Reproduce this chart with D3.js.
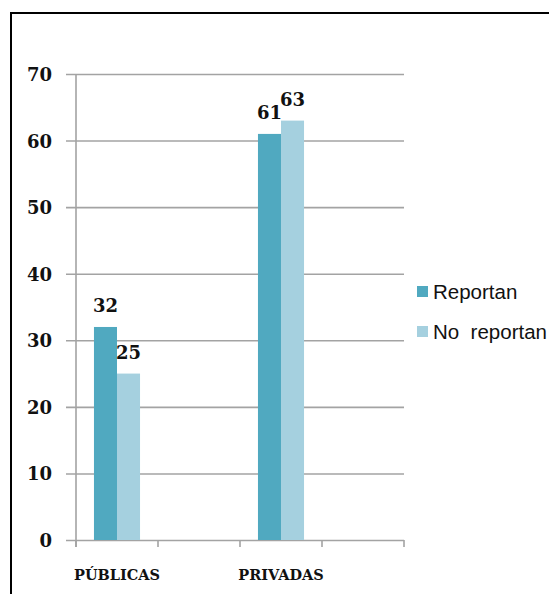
<!DOCTYPE html>
<html>
<head>
<meta charset="utf-8">
<script src="https://cdn.jsdelivr.net/npm/d3@7"></script>
<style>
  html, body { margin: 0; padding: 0; background: #fff; }
  svg { display: block; }
</style>
</head>
<body>
<svg id="chart" width="549" height="594"></svg>
<script>
const categories = ["PÚBLICAS", "", "PRIVADAS", ""];
const seriesNames = ["Reportan", "No  reportan"];
const reportan = [32, null, 61, null];
const noReportan = [25, null, 63, null];
const yTicks = [0, 10, 20, 30, 40, 50, 60, 70];
const colors = ["#50A9C0", "#A5D0DF"];

const svg = d3.select("#chart");

// outer frame
svg.append("rect")
  .attr("x", 11).attr("y", 13)
  .attr("width", 600).attr("height", 650)
  .attr("fill", "none").attr("stroke", "#000").attr("stroke-width", 2);

const plotLeft = 76, plotRight = 404, plotTop = 74, plotBottom = 540;

const x = d3.scaleBand().domain(d3.range(categories.length)).range([plotLeft, plotRight]).padding(0);
const x1 = d3.scaleBand().domain(seriesNames).range([0, x.bandwidth()]).paddingInner(0).paddingOuter(0.78);
const y = d3.scaleLinear().domain([0, 70]).range([plotBottom, plotTop]);

const serif = "'DejaVu Serif', serif";

const grid = svg.append("g")
  .attr("transform", `translate(${plotRight},0)`)
  .call(d3.axisLeft(y).tickValues(yTicks).tickSize(plotRight - 66).tickPadding(14).tickFormat(d3.format("d")));
grid.select(".domain").remove();
grid.selectAll(".tick line").attr("stroke", "#A3A3A3").attr("stroke-width", 1.6);
grid.selectAll(".tick text")
  .attr("font-family", serif)
  .attr("font-weight", "bold")
  .attr("font-size", 18)
  .attr("fill", "#111")
  .attr("dy", "0.36em");

// y axis line
svg.append("line")
  .attr("x1", plotLeft).attr("x2", plotLeft)
  .attr("y1", y(70)).attr("y2", y(0) + 7)
  .attr("stroke", "#A3A3A3").attr("stroke-width", 1.6);

// x axis tick marks at band edges
const edges = x.domain().map(d => x(d)).concat([x.range()[1]]);
svg.append("g").selectAll("line").data(edges).join("line")
  .attr("x1", d => d).attr("x2", d => d)
  .attr("y1", y(0)).attr("y2", y(0) + 7)
  .attr("stroke", "#A3A3A3").attr("stroke-width", 1.6);

// category labels
const xa = svg.append("g")
  .attr("transform", `translate(0,${y(0)})`)
  .call(d3.axisBottom(x).tickSize(0).tickPadding(30).tickFormat(i => categories[i]));
xa.select(".domain").remove();
xa.selectAll(".tick text")
  .attr("font-family", serif)
  .attr("font-weight", "bold")
  .attr("font-size", 14.5)
  .attr("fill", "#111");

// bars
const rows = categories.map((c, i) => ({ i, vals: [reportan[i], noReportan[i]] }));
const groups = svg.append("g").selectAll("g").data(rows).join("g")
  .attr("transform", d => `translate(${x(d.i)},0)`);

groups.selectAll("rect")
  .data(d => d.vals.map((v, k) => ({ v, k })).filter(e => e.v != null))
  .join("rect")
  .attr("x", e => x1(seriesNames[e.k]))
  .attr("y", e => y(e.v))
  .attr("width", x1.bandwidth())
  .attr("height", e => y(0) - y(e.v))
  .attr("fill", e => colors[e.k]);

groups.selectAll("text")
  .data(d => d.vals.map((v, k) => ({ v, k })).filter(e => e.v != null))
  .join("text")
  .attr("x", e => x1(seriesNames[e.k]) + x1.bandwidth() / 2)
  .attr("y", e => y(e.v) - 15)
  .attr("text-anchor", "middle")
  .attr("font-family", serif)
  .attr("font-weight", "bold")
  .attr("font-size", 18)
  .attr("fill", "#111")
  .text(e => e.v);

// legend
const legend = svg.append("g").selectAll("g").data(seriesNames).join("g")
  .attr("transform", (d, i) => `translate(417,${286 + i * 40})`);
legend.append("rect").attr("width", 11).attr("height", 11).attr("fill", (d, i) => colors[i]);
legend.append("text")
  .attr("x", 16).attr("y", 13)
  .attr("font-family", "'Liberation Sans', Arial, sans-serif")
  .attr("font-size", 20.5)
  .attr("fill", "#111")
  .attr("xml:space", "preserve")
  .style("white-space", "pre")
  .text(d => d);
</script>
</body>
</html>
